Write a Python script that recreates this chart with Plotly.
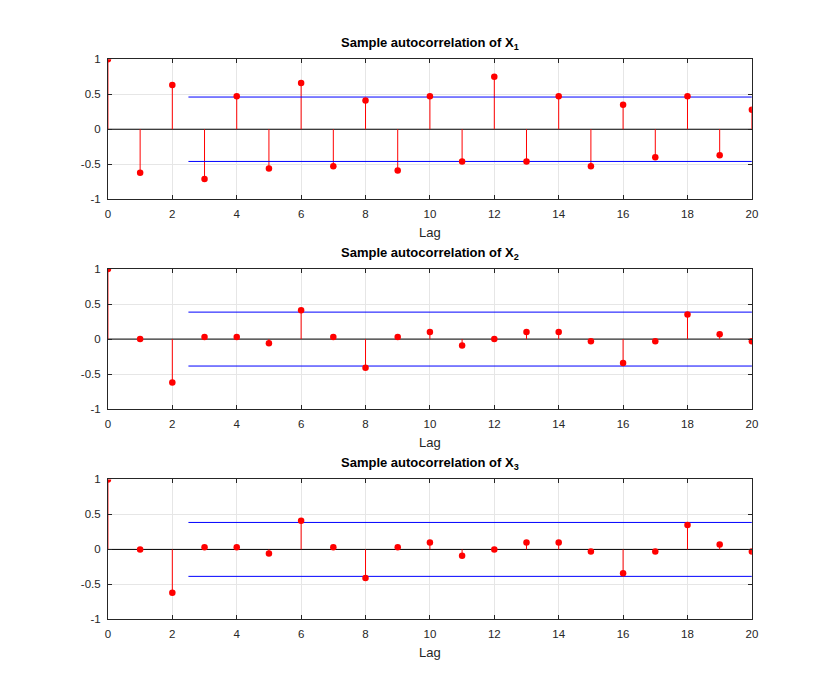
import plotly.graph_objects as go

lags = list(range(0, 21))
acf_x1 = [1.0, -0.62, 0.63, -0.71, 0.47, -0.56, 0.66, -0.53, 0.41, -0.59, 0.47,
          -0.46, 0.75, -0.46, 0.47, -0.53, 0.35, -0.40, 0.47, -0.37, 0.28]
acf_x2 = [1.0, 0.0, -0.62, 0.03, 0.03, -0.06, 0.41, 0.03, -0.41, 0.03, 0.10,
          -0.09, 0.0, 0.10, 0.10, -0.03, -0.34, -0.03, 0.35, 0.07, -0.03]
acf_x3 = [1.0, 0.0, -0.62, 0.03, 0.03, -0.06, 0.41, 0.03, -0.41, 0.03, 0.10,
          -0.09, 0.0, 0.10, 0.10, -0.03, -0.34, -0.03, 0.35, 0.07, -0.03]
bounds = [0.46, 0.385, 0.385]
bound_x = [2.5, 20]
titles = ["Sample autocorrelation of X<sub>1</sub>",
          "Sample autocorrelation of X<sub>2</sub>",
          "Sample autocorrelation of X<sub>3</sub>"]
series = [acf_x1, acf_x2, acf_x3]

W, H = 830, 700
x0, x1 = 98 / W, 749 / W
panels = [(46, 188.5), (259.5, 402), (473.5, 616)]

fig = go.Figure()
font = dict(family="Liberation Sans, Arial, sans-serif", size=11.5, color="#262626")
annotations = []
for i, (vals, b, t) in enumerate(zip(series, bounds, titles)):
    n = i + 1
    xa = "x" if n == 1 else f"x{n}"
    ya = "y" if n == 1 else f"y{n}"
    fig.add_trace(go.Scatter(x=[lags[0], lags[-1]], y=[0, 0], mode="lines",
                             line=dict(color="black", width=1), xaxis=xa, yaxis=ya,
                             showlegend=False, hoverinfo="skip"))
    sx, sy = [], []
    for l, v in zip(lags, vals):
        sx += [l, l, None]
        sy += [0, v, None]
    fig.add_trace(go.Scatter(x=sx, y=sy, mode="lines",
                             line=dict(color="red", width=1), xaxis=xa, yaxis=ya,
                             showlegend=False, hoverinfo="skip"))
    for s in (1, -1):
        fig.add_trace(go.Scatter(x=bound_x, y=[s * b, s * b], mode="lines",
                                 line=dict(color="blue", width=1), xaxis=xa, yaxis=ya,
                                 showlegend=False, hoverinfo="skip"))
    fig.add_trace(go.Scatter(x=lags, y=vals, mode="markers",
                             marker=dict(color="red", size=6.5), xaxis=xa, yaxis=ya,
                             showlegend=False))
    top, bot = panels[i]
    ydom = [1 - bot / H, 1 - top / H]
    axis_common = dict(showline=True, linecolor="#262626", linewidth=1, mirror="ticks",
                       ticks="inside", ticklen=4, tickcolor="#262626",
                       showgrid=True, gridcolor="#e6e6e6", gridwidth=1,
                       zeroline=False, tickfont=font, ticklabelstandoff=4)
    fig.layout[f"xaxis{'' if n == 1 else n}"] = dict(
        domain=[x0, x1], range=[0, 20], tickmode="array",
        tickvals=list(range(0, 21, 2)), anchor=ya,
        title=dict(text="Lag", font=dict(family=font["family"], size=13, color="#262626"), standoff=8),
        **axis_common)
    fig.layout[f"yaxis{'' if n == 1 else n}"] = dict(
        domain=ydom, range=[-1, 1], tickmode="array",
        tickvals=[-1, -0.5, 0, 0.5, 1], ticktext=["-1", "-0.5", "0", "0.5", "1"],
        anchor=xa, **axis_common)
    annotations.append(dict(text=f"<b>{t}</b>", x=(x0 + x1) / 2, y=1 - top / H,
                            xref="paper", yref="paper", xanchor="center", yanchor="bottom",
                            yshift=5, showarrow=False,
                            font=dict(family=font["family"], size=13, color="black")))

fig.update_layout(width=W, height=H, margin=dict(l=0, r=0, t=0, b=0),
                  paper_bgcolor="white", plot_bgcolor="white",
                  annotations=annotations)
fig.write_html("out.html")
